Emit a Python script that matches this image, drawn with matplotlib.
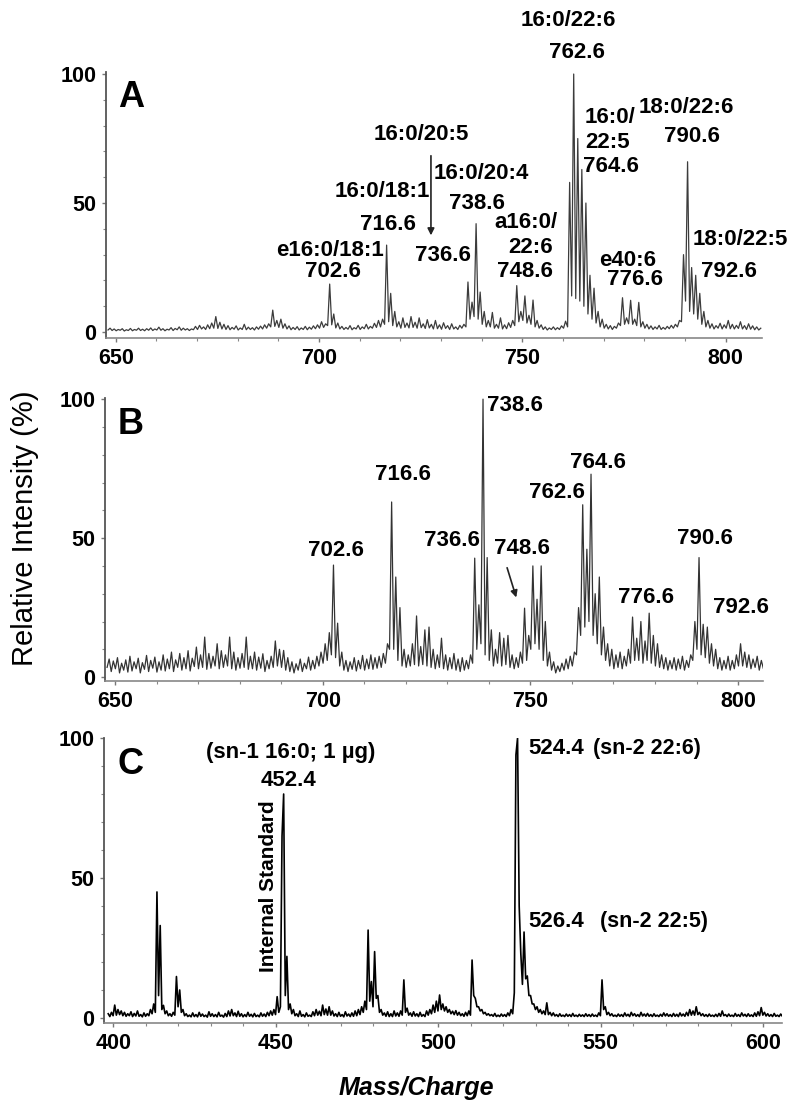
import numpy as np
import matplotlib
matplotlib.use("Agg")
import matplotlib.pyplot as plt
from matplotlib.ticker import MultipleLocator

plt.rcParams['font.family'] = ['Liberation Sans', 'DejaVu Sans']

# spectrum A: intensities every 0.5 Da starting at m/z 648.1
a_start = 648.1
a_int = [
    0.8, 1.5, 0.6, 1.2, 0.5, 1.0, 0.7, 1.3, 0.4, 0.9, 0.6, 1.4, 0.5, 1.0, 0.7, 1.5, 0.6, 1.1, 0.5, 1.3,
    0.7, 1.6, 0.6, 1.2, 0.8, 1.9, 0.7, 1.3, 0.5, 1.1, 0.8, 1.7, 0.6, 1.4, 0.9, 2.0, 0.7, 1.5, 0.8, 1.3,
    0.6, 1.2, 0.9, 2.2, 1.0, 2.6, 1.2, 2.0, 1.0, 2.8, 1.3, 3.5, 1.5, 6.0, 1.4, 3.8, 1.2, 3.0, 1.0, 2.5,
    0.9, 1.8, 1.1, 2.4, 0.8, 1.6, 1.0, 3.0, 0.9, 1.9, 1.0, 1.7, 0.8, 2.0, 1.1, 2.3, 1.2, 2.8, 1.5, 3.2,
    2.0, 8.5, 2.2, 4.5, 1.8, 5.0, 1.5, 3.2, 1.2, 2.4, 0.9, 1.8, 1.0, 2.1, 0.8, 1.6, 1.0, 2.2, 0.9, 1.9,
    1.1, 2.4, 1.3, 2.8, 1.5, 4.0, 1.8, 3.2, 2.5, 18.6, 2.8, 7.0, 1.6, 3.5, 1.2, 2.2, 1.0, 1.8, 1.1, 2.5,
    0.9, 1.7, 1.2, 2.6, 1.0, 2.0, 1.3, 3.0, 1.2, 2.2, 1.5, 3.4, 1.8, 4.5, 2.0, 5.0, 3.0, 33.7, 4.0, 15.0,
    2.5, 8.0, 2.0, 4.0, 1.5, 5.5, 1.8, 3.5, 1.6, 6.0, 1.8, 3.8, 1.5, 5.5, 1.7, 3.2, 1.4, 4.8, 1.6, 3.0,
    1.2, 4.5, 1.3, 2.8, 1.1, 3.6, 1.4, 2.5, 1.0, 3.2, 1.2, 2.0, 1.0, 2.6, 1.5, 3.0, 2.0, 19.4, 5.0, 11.6,
    6.0, 42.0, 5.0, 15.5, 3.0, 8.0, 2.0, 4.5, 2.0, 7.6, 1.5, 3.0, 1.5, 5.5, 1.2, 2.8, 1.3, 3.6, 1.8, 4.5,
    2.5, 18.0, 4.0, 8.0, 4.5, 14.0, 3.5, 6.5, 3.0, 12.4, 2.0, 4.5, 1.5, 2.8, 1.0, 2.0, 0.8, 1.6, 1.0, 2.0,
    0.9, 1.7, 1.0, 2.4, 1.5, 4.2, 2.0, 58.0, 14.0, 100.0, 13.0, 75.0, 12.0, 63.0, 10.0, 50.0, 7.0, 22.0, 5.0, 17.0,
    3.5, 8.0, 2.0, 5.0, 1.5, 3.0, 1.2, 2.5, 1.0, 2.2, 1.5, 3.5, 2.5, 13.3, 3.0, 5.5, 3.2, 12.3, 3.0, 5.0,
    2.5, 11.5, 2.0, 4.0, 1.5, 3.0, 1.2, 2.4, 1.0, 2.0, 1.2, 2.6, 1.0, 1.8, 1.1, 2.2, 1.3, 2.6, 1.5, 3.0,
    2.0, 4.5, 4.0, 30.0, 12.0, 66.0, 8.0, 25.0, 7.0, 22.0, 5.0, 15.0, 3.0, 8.0, 2.0, 4.5, 1.5, 3.2, 1.2, 2.5,
    1.5, 3.4, 1.2, 2.8, 1.5, 4.5, 1.3, 3.0, 1.2, 2.6, 1.4, 4.0, 1.2, 2.5, 1.0, 3.2, 1.1, 2.4, 0.9, 2.0,
    0.8, 1.5,
]

# spectrum B: intensities every 0.5 Da starting at m/z 648.1
b_start = 648.1
b_int = [
    3.5, 6.5, 2.0, 5.8, 3.0, 7.0, 1.5, 5.0, 2.5, 6.2, 1.8, 7.5, 2.2, 5.5, 3.0, 6.8, 1.5, 5.2, 2.8, 7.8,
    2.0, 6.0, 3.2, 7.2, 1.8, 5.5, 2.5, 8.0, 2.2, 6.5, 3.0, 9.0, 2.0, 6.2, 3.5, 8.5, 2.5, 7.0, 3.0, 9.5,
    2.2, 6.8, 3.8, 10.8, 3.0, 8.0, 3.5, 14.4, 2.8, 8.5, 3.2, 7.5, 4.0, 12.0, 3.0, 9.5, 3.5, 8.0, 4.0, 14.4,
    3.0, 9.0, 2.5, 7.0, 3.2, 8.5, 3.5, 14.4, 2.8, 7.5, 3.0, 9.0, 2.5, 7.2, 3.2, 8.4, 2.0, 6.0, 3.0, 7.5,
    3.5, 13.0, 4.0, 10.0, 3.5, 9.6, 2.5, 7.0, 2.0, 5.5, 1.5, 4.8, 2.5, 6.5, 2.0, 5.0, 3.0, 7.2, 2.5, 6.0,
    3.0, 7.5, 4.0, 9.0, 5.0, 12.0, 6.0, 16.0, 8.0, 40.3, 7.0, 19.4, 4.0, 9.0, 2.5, 6.0, 2.0, 5.5, 2.8, 7.0,
    2.2, 6.0, 3.0, 7.8, 2.5, 6.5, 3.0, 8.0, 2.8, 7.0, 3.2, 7.5, 3.5, 8.5, 5.0, 12.0, 10.0, 63.0, 10.0, 36.0,
    6.0, 25.0, 4.0, 10.0, 3.5, 8.0, 4.0, 12.0, 4.5, 22.0, 4.0, 11.0, 4.5, 17.0, 4.0, 18.0, 3.5, 10.0, 3.0, 8.0,
    3.5, 14.0, 3.0, 8.0, 2.5, 7.0, 3.0, 8.5, 2.5, 6.5, 2.0, 7.0, 2.5, 6.0, 3.0, 8.0, 5.0, 42.8, 10.0, 26.0,
    12.0, 100.0, 8.0, 43.0, 6.0, 17.0, 4.0, 10.0, 5.0, 16.0, 4.0, 14.0, 4.5, 15.0, 3.5, 8.0, 3.0, 7.0, 3.5, 9.0,
    5.0, 24.8, 6.0, 15.0, 10.0, 40.0, 12.0, 28.0, 10.0, 40.0, 6.0, 20.0, 4.0, 9.0, 2.5, 5.5, 1.5, 4.0, 2.0, 5.0,
    2.5, 6.5, 3.0, 7.5, 4.0, 9.0, 8.0, 25.0, 15.0, 62.0, 18.0, 46.0, 20.0, 73.0, 15.0, 30.0, 12.0, 36.0, 8.0, 18.0,
    6.0, 12.0, 4.0, 10.0, 3.0, 8.0, 3.5, 9.0, 3.0, 7.5, 4.0, 10.0, 5.0, 21.6, 6.0, 14.0, 6.0, 20.0, 5.0, 13.0,
    6.0, 23.0, 5.0, 15.0, 4.0, 12.0, 3.5, 8.0, 3.0, 7.0, 2.5, 6.0, 3.0, 7.0, 2.5, 6.5, 3.0, 7.5, 2.5, 6.0,
    3.5, 8.0, 6.0, 20.0, 10.0, 43.0, 8.0, 19.0, 7.0, 18.0, 5.0, 12.0, 4.0, 10.0, 3.0, 7.0, 2.5, 6.0, 3.0, 7.5,
    2.5, 6.0, 3.0, 8.0, 4.0, 12.0, 4.0, 9.0, 3.5, 8.0, 3.0, 6.5, 3.5, 7.5, 2.5, 6.0, 3.0, 5.5,
]

# spectrum C: intensities every 0.5 Da starting at m/z 398.4
c_start = 398.4
c_int = [
    1.5, 0.5, 2.0, 0.8, 4.6, 1.0, 3.0, 1.2, 2.5, 0.8, 2.0, 0.6, 1.5, 0.8, 2.2, 0.5, 1.6, 0.7, 2.5, 0.6,
    1.2, 0.4, 1.8, 0.6, 1.5, 0.8, 3.0, 1.5, 5.0, 2.0, 45.0, 8.0, 33.0, 3.0, 4.5, 1.5, 2.5, 0.8, 1.5, 0.6,
    2.0, 1.0, 14.8, 4.0, 10.0, 2.0, 3.0, 0.8, 1.5, 0.5, 1.0, 0.4, 1.8, 0.5, 1.2, 0.4, 2.0, 0.6, 1.4, 0.5,
    1.0, 0.3, 2.2, 0.6, 1.5, 0.5, 1.2, 0.4, 2.0, 0.6, 1.0, 0.3, 1.6, 0.5, 2.5, 0.7, 3.0, 0.8, 1.8, 0.5,
    2.4, 0.6, 1.5, 0.4, 1.2, 0.5, 2.0, 0.6, 1.3, 0.4, 1.6, 0.5, 1.0, 0.4, 1.8, 0.6, 1.4, 0.5, 2.0, 0.8,
    2.5, 1.0, 3.0, 1.2, 7.6, 2.0, 4.0, 65.0, 80.0, 8.0, 22.0, 3.0, 5.0, 1.5, 3.0, 0.8, 1.5, 0.5, 2.5, 0.6,
    1.2, 0.4, 1.8, 0.6, 1.0, 0.5, 2.2, 0.8, 3.0, 1.0, 2.4, 0.8, 4.6, 1.2, 3.2, 1.0, 4.0, 1.0, 2.5, 0.7,
    1.5, 0.5, 2.0, 0.6, 1.2, 0.4, 2.2, 0.7, 1.4, 0.5, 1.8, 0.6, 2.5, 0.8, 3.0, 1.2, 4.0, 2.0, 6.0, 3.0,
    31.4, 6.0, 13.0, 4.0, 23.7, 7.0, 8.0, 2.0, 3.0, 1.0, 1.8, 0.6, 2.2, 0.5, 1.5, 0.5, 2.5, 0.7, 1.8, 0.6,
    2.5, 1.0, 13.6, 2.0, 3.5, 1.0, 1.8, 0.6, 2.2, 0.7, 1.5, 0.5, 2.0, 0.6, 1.2, 0.5, 2.5, 1.0, 3.0, 1.5,
    4.6, 2.0, 6.0, 2.5, 8.2, 3.0, 5.0, 2.5, 4.0, 2.0, 3.0, 1.5, 2.4, 1.2, 2.6, 1.0, 2.0, 0.8, 1.5, 0.6,
    2.0, 0.8, 2.5, 1.0, 20.7, 8.0, 7.0, 4.0, 4.0, 2.5, 3.0, 1.5, 2.0, 1.0, 1.5, 0.8, 1.2, 0.6, 1.6, 0.5,
    1.0, 0.5, 1.4, 0.6, 1.2, 0.5, 1.8, 0.8, 3.0, 1.5, 9.0, 94.0, 100.0, 40.0, 23.0, 12.0, 30.7, 14.0, 15.0, 8.0,
    8.0, 5.0, 5.0, 3.0, 4.0, 2.0, 3.0, 1.5, 2.5, 1.2, 5.4, 1.2, 2.0, 0.8, 1.8, 0.7, 1.2, 0.5, 1.5, 0.6,
    1.0, 0.5, 1.4, 0.6, 1.2, 0.5, 1.6, 0.6, 1.0, 0.5, 1.3, 0.6, 1.1, 0.5, 1.5, 0.6, 1.2, 0.5, 1.4, 0.6,
    1.0, 0.5, 1.8, 0.8, 13.6, 3.0, 4.0, 1.2, 2.0, 0.8, 1.5, 0.6, 1.0, 0.5, 1.4, 0.6, 1.2, 0.5, 1.8, 0.7,
    1.3, 0.5, 2.0, 0.8, 1.5, 0.6, 1.2, 0.5, 2.0, 0.7, 1.4, 0.6, 1.6, 0.6, 1.2, 0.5, 1.5, 0.6, 1.0, 0.5,
    1.3, 0.6, 1.8, 0.7, 1.5, 0.6, 1.2, 0.5, 1.6, 0.6, 1.3, 0.5, 1.8, 0.7, 1.4, 0.6, 2.0, 0.8, 3.0, 1.0,
    2.5, 1.0, 4.0, 1.2, 2.0, 0.8, 1.5, 0.6, 1.2, 0.5, 1.4, 0.6, 1.0, 0.5, 1.3, 0.5, 1.6, 0.6, 2.5, 0.8,
    1.2, 0.5, 1.4, 0.6, 1.0, 0.5, 1.6, 0.6, 1.2, 0.5, 1.8, 0.7, 1.3, 0.5, 1.5, 0.6, 1.1, 0.5, 1.8, 0.6,
    2.2, 0.8, 3.7, 1.0, 2.0, 0.7, 1.5, 0.6, 1.2, 0.5, 1.6, 0.6, 1.0, 0.5, 1.4, 0.6, 1.0, 0.5,
]

a_xticks = [650, 700, 750, 800]
b_xticks = [650, 700, 750, 800]
c_xticks = [400, 450, 500, 550, 600]
yticks = [0, 50, 100]

fig = plt.figure(figsize=(8, 11.14), dpi=100)

axA = fig.add_axes([0.1325, 0.6966, 0.82, 0.2388])
axB = fig.add_axes([0.13125, 0.3887, 0.8225, 0.2540])
axC = fig.add_axes([0.13, 0.0817, 0.8475, 0.2558])


def setup(ax, xlim, ylim, xticks):
    ax.set_xlim(*xlim)
    ax.set_ylim(*ylim)
    ax.set_xticks(xticks)
    ax.set_yticks(yticks)
    ax.xaxis.set_minor_locator(MultipleLocator(10))
    ax.yaxis.set_minor_locator(MultipleLocator(10))
    for s in ['top', 'right']:
        ax.spines[s].set_visible(False)
    ax.spines['left'].set_color('#555555')
    ax.spines['bottom'].set_color('#888888')
    ax.spines['left'].set_linewidth(1.3)
    ax.spines['bottom'].set_linewidth(1.2)
    ax.tick_params(which='major', direction='out', length=3, width=1, color='#777777',
                   labelsize=15.5, pad=4)
    ax.tick_params(which='minor', direction='out', length=2, width=0.8, color='#888888')
    for lab in ax.get_xticklabels() + ax.get_yticklabels():
        lab.set_fontweight('bold')


def mz_axis(start, vals):
    return start + 0.5 * np.arange(len(vals))


axA.plot(mz_axis(a_start, a_int), a_int, color='#3c3c3c', lw=0.9)
axB.plot(mz_axis(b_start, b_int), b_int, color='#333333', lw=0.9)
axC.plot(mz_axis(c_start, c_int), c_int, color='#000000', lw=1.2)

setup(axA, (647.6, 808.9), (-2.3, 100.8), a_xticks)
setup(axB, (647.6, 806.0), (-1.4, 100.4), b_xticks)
setup(axC, (397.1, 605.8), (-1.8, 100.0), c_xticks)

bold = dict(fontsize=16, fontweight='bold', clip_on=False)

# panel A labels
axA.text(650.6, 91, 'A', fontsize=26, fontweight='bold', va='center', ha='left')
axA.text(702.7, 31.8, 'e16:0/18:1', ha='center', va='center', **bold)
axA.text(703.4, 23.3, '702.6', ha='center', va='center', **bold)
axA.text(715.6, 54.3, '16:0/18:1', ha='center', va='center', **bold)
axA.text(716.9, 41.5, '716.6', ha='center', va='center', **bold)
axA.text(725.1, 76.4, '16:0/20:5', ha='center', va='center', **bold)
axA.annotate('', xy=(727.5, 36.4), xytext=(727.5, 69.4),
             arrowprops=dict(arrowstyle='-|>', color='#222222', lw=1.2, mutation_scale=10))
axA.text(730.5, 29.8, '736.6', ha='center', va='center', **bold)
axA.text(739.8, 61.6, '16:0/20:4', ha='center', va='center', **bold)
axA.text(738.8, 50.0, '738.6', ha='center', va='center', **bold)
axA.text(758.5, 42.6, 'a16:0/', ha='right', va='center', **bold)
axA.text(757.5, 32.6, '22:6', ha='right', va='center', **bold)
axA.text(757.5, 23.3, '748.6', ha='right', va='center', **bold)
axA.text(761.2, 120.9, '16:0/22:6', ha='center', va='center', **bold)
axA.text(763.4, 108.5, '762.6', ha='center', va='center', **bold)
axA.text(765.4, 83.3, '16:0/', ha='left', va='center', **bold)
axA.text(765.4, 73.3, '22:5', ha='left', va='center', **bold)
axA.text(764.9, 64.0, '764.6', ha='left', va='center', **bold)
axA.text(790.2, 87.2, '18:0/22:6', ha='center', va='center', **bold)
axA.text(791.7, 75.6, '790.6', ha='center', va='center', **bold)
axA.text(775.9, 27.9, 'e40:6', ha='center', va='center', **bold)
axA.text(777.7, 20.2, '776.6', ha='center', va='center', **bold)
axA.text(803.5, 35.7, '18:0/22:5', ha='center', va='center', **bold)
axA.text(800.8, 23.3, '792.6', ha='center', va='center', **bold)

# panel B labels
axB.text(650.7, 91, 'B', fontsize=26, fontweight='bold', va='center', ha='left')
axB.text(703.2, 45.7, '702.6', ha='center', va='center', **bold)
axB.text(719.4, 73.0, '716.6', ha='center', va='center', **bold)
axB.text(739.6, 97.8, '738.6', ha='left', va='center', **bold)
axB.text(731.2, 49.3, '736.6', ha='center', va='center', **bold)
axB.text(748.0, 46.4, '748.6', ha='center', va='center', **bold)
axB.annotate('', xy=(746.8, 27.7), xytext=(744.2, 40.3),
             arrowprops=dict(arrowstyle='-|>', color='#222222', lw=1.2, mutation_scale=10))
axB.text(766.3, 77.3, '764.6', ha='center', va='center', **bold)
axB.text(756.4, 66.5, '762.6', ha='center', va='center', **bold)
axB.text(792.1, 50.0, '790.6', ha='center', va='center', **bold)
axB.text(777.9, 28.8, '776.6', ha='center', va='center', **bold)
axB.text(800.7, 25.2, '792.6', ha='center', va='center', **bold)

# panel C labels
axC.text(401.4, 90.4, 'C', fontsize=26, fontweight='bold', va='center', ha='left')
axC.text(454.6, 95.0, '(sn-1 16:0; 1 \u00b5g)', ha='center', va='center', **bold)
axC.text(454.0, 85.0, '452.4', ha='center', va='center', **bold)
axC.text(447.6, 47.1, 'Internal Standard', rotation=90, ha='center', va='center',
         fontsize=15, fontweight='bold', clip_on=False)
axC.text(527.6, 96.4, '524.4', ha='left', va='center', fontsize=16, fontweight='bold', clip_on=False)
axC.text(547.6, 96.4, '(sn-2 22:6)', ha='left', va='center', fontsize=15.5, fontweight='bold', clip_on=False)
axC.text(527.6, 34.3, '526.4', ha='left', va='center', fontsize=16, fontweight='bold', clip_on=False)
axC.text(549.7, 34.3, '(sn-2 22:5)', ha='left', va='center', fontsize=15.5, fontweight='bold', clip_on=False)

fig.text(0.031, 1 - 528 / 1114, 'Relative Intensity (%)', rotation=90,
         ha='center', va='center', fontsize=21)
fig.text(416 / 800, 1 - 1088 / 1114, 'Mass/Charge', ha='center', va='center',
         fontsize=18, fontweight='bold', style='italic')

fig.savefig('out.png', dpi=100)
